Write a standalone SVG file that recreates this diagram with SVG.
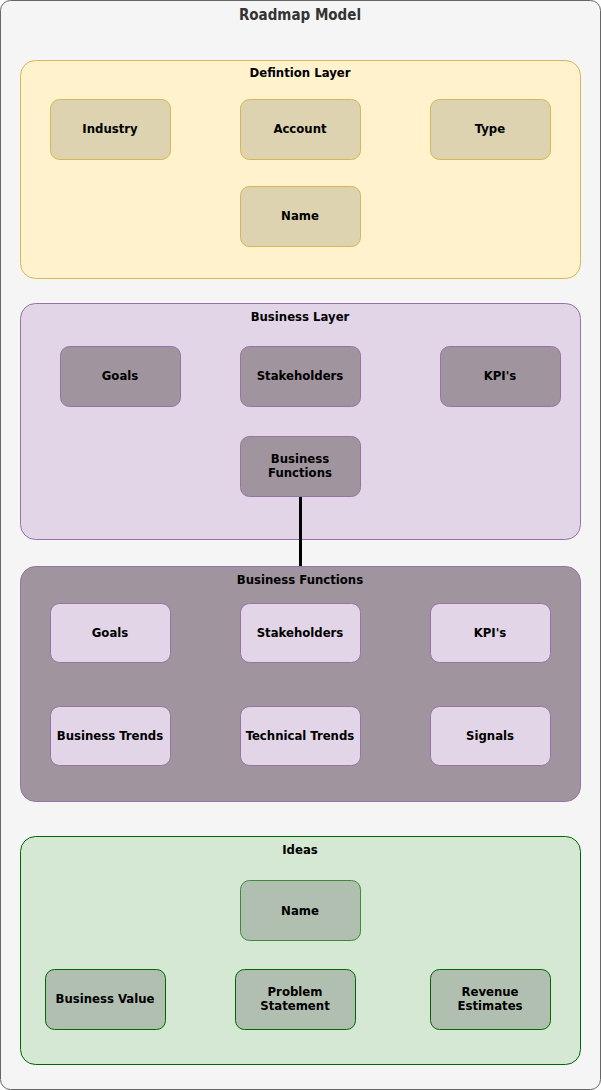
<svg xmlns="http://www.w3.org/2000/svg" width="601" height="1090" viewBox="0 0 601 1090">
<style>
text{font-family:"DejaVu Sans Condensed","DejaVu Sans",sans-serif;font-weight:bold;font-size:13px;fill:#000;text-anchor:middle}
.title{font-size:15px;fill:#333}
.outer{fill:#f5f5f5;stroke:#666;stroke-width:1}
.def{fill:#fff2cc;stroke:#d6b656}
.defn{fill:#ddd3b1;stroke:#d6b656}
.bl{fill:#e1d5e7;stroke:#9673a6}
.bln{fill:#a0959f;stroke:#9673a6}
.idea{fill:#d5e8d4;stroke:#006600}
.idean{fill:#b1bfb0;stroke:#006600}
.conn{stroke:#000;stroke-width:3;fill:none}
</style>
<g id="roadmap-model">
<rect class="outer" x="0.5" y="0.5" width="600" height="1089" rx="10"/>
<text class="title" x="300" y="20">Roadmap Model</text>
</g>
<g id="definition-layer">
<rect class="def" x="20.5" y="60.5" width="560" height="218" rx="15"/>
<text x="300" y="77">Defintion Layer</text>
</g>
<g id="def-industry"><rect class="defn" x="50.5" y="99.5" width="120" height="60" rx="9"/><text x="110" y="133">Industry</text></g>
<g id="def-account"><rect class="defn" x="240.5" y="99.5" width="120" height="60" rx="9"/><text x="300" y="133">Account</text></g>
<g id="def-type"><rect class="defn" x="430.5" y="99.5" width="120" height="60" rx="9"/><text x="490" y="133">Type</text></g>
<g id="def-name"><rect class="defn" x="240.5" y="186.5" width="120" height="60" rx="9"/><text x="300" y="220">Name</text></g>

<g id="business-layer">
<rect class="bl" x="20.5" y="303.5" width="560" height="236" rx="15"/>
<text x="300" y="321">Business Layer</text>
</g>
<g id="bl-goals"><rect class="bln" x="60.5" y="346.5" width="120" height="60" rx="9"/><text x="120" y="380">Goals</text></g>
<g id="bl-stakeholders"><rect class="bln" x="240.5" y="346.5" width="120" height="60" rx="9"/><text x="300" y="380">Stakeholders</text></g>
<g id="bl-kpis"><rect class="bln" x="440.5" y="346.5" width="120" height="60" rx="9"/><text x="500" y="380">KPI's</text></g>
<g id="bl-business-functions"><rect class="bln" x="240.5" y="436.5" width="120" height="60" rx="9"/><text x="300" y="463">Business</text><text x="300" y="477">Functions</text></g>

<g id="business-functions">
<rect class="bln" x="20.5" y="566.5" width="560" height="235" rx="15"/>
<text x="300" y="584">Business Functions</text>
</g>
<g id="bf-goals"><rect class="bl" x="50.5" y="603.5" width="120" height="59" rx="9"/><text x="110" y="637">Goals</text></g>
<g id="bf-stakeholders"><rect class="bl" x="240.5" y="603.5" width="120" height="59" rx="9"/><text x="300" y="637">Stakeholders</text></g>
<g id="bf-kpis"><rect class="bl" x="430.5" y="603.5" width="120" height="59" rx="9"/><text x="490" y="637">KPI's</text></g>
<g id="bf-business-trends"><rect class="bl" x="50.5" y="706.5" width="120" height="59" rx="9"/><text x="110" y="740">Business Trends</text></g>
<g id="bf-technical-trends"><rect class="bl" x="240.5" y="706.5" width="120" height="59" rx="9"/><text x="300" y="740">Technical Trends</text></g>
<g id="bf-signals"><rect class="bl" x="430.5" y="706.5" width="120" height="59" rx="9"/><text x="490" y="740">Signals</text></g>

<g id="ideas">
<rect class="idea" x="20.5" y="836.5" width="560" height="228" rx="15"/>
<text x="300" y="854">Ideas</text>
</g>
<g id="idea-name"><rect class="idean" x="240.5" y="880.5" width="120" height="60" rx="9" style="stroke:#3d8a3d"/><text x="300" y="915">Name</text></g>
<g id="idea-business-value"><rect class="idean" x="45.5" y="969.5" width="120" height="60" rx="9"/><text x="105" y="1003">Business Value</text></g>
<g id="idea-problem-statement"><rect class="idean" x="235.5" y="969.5" width="120" height="60" rx="9"/><text x="295" y="996">Problem</text><text x="295" y="1010">Statement</text></g>
<g id="idea-revenue-estimates"><rect class="idean" x="430.5" y="969.5" width="120" height="60" rx="9"/><text x="490" y="996">Revenue</text><text x="490" y="1010">Estimates</text></g>

<g id="connectors">
<line class="conn" x1="300.5" y1="497" x2="300.5" y2="566"/>
</g>
</svg>
